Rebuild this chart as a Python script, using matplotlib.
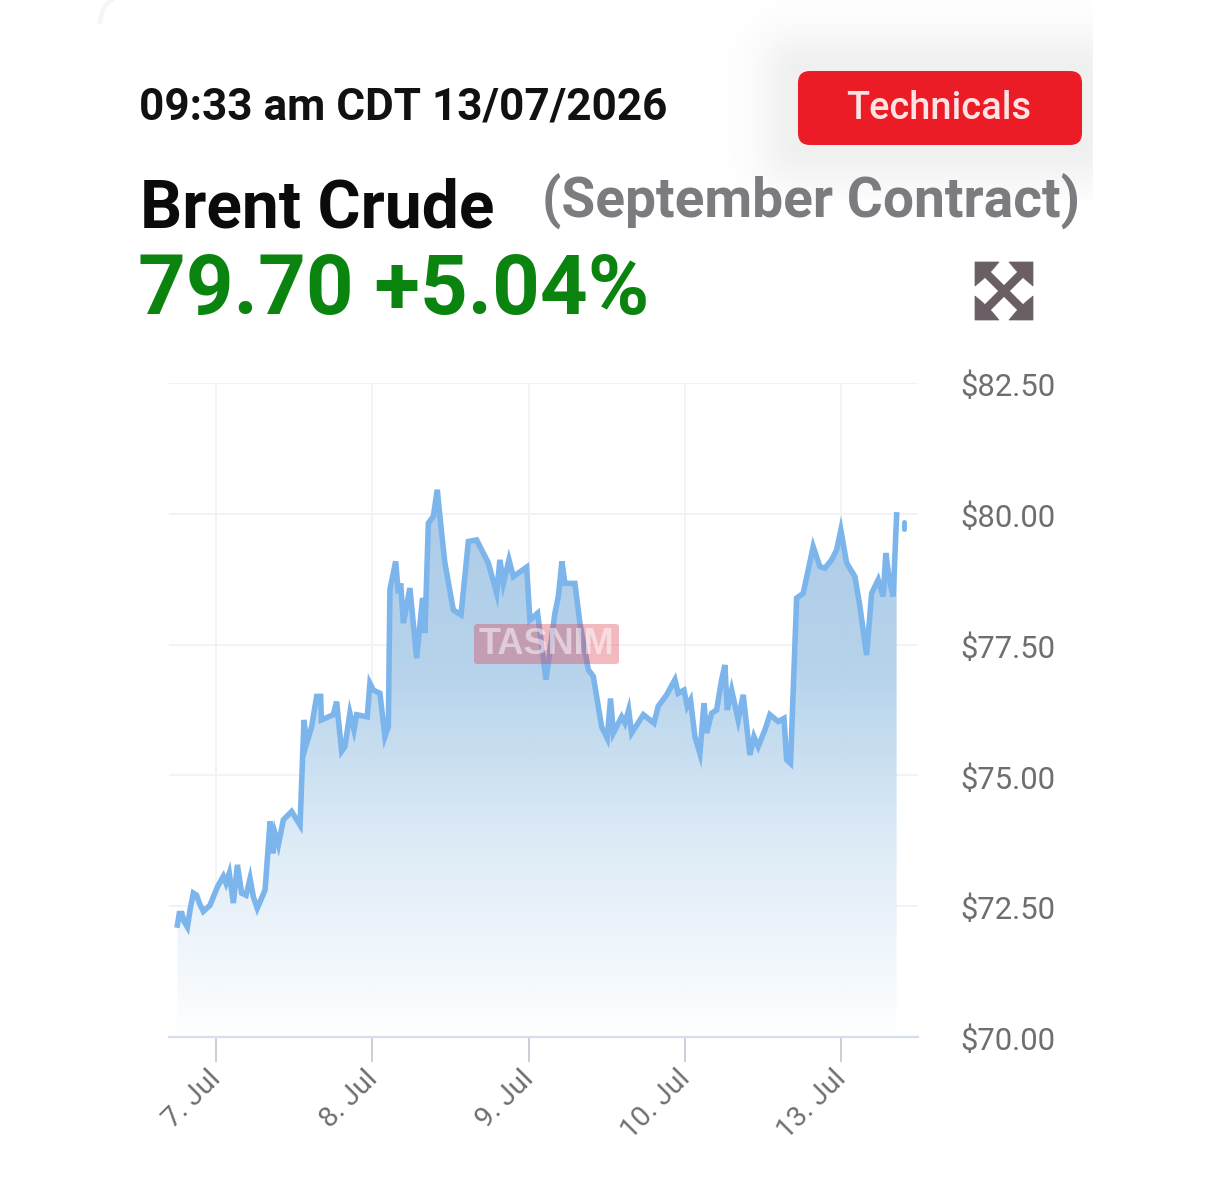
import numpy as np
import matplotlib
matplotlib.use("Agg")
import matplotlib.pyplot as plt
from matplotlib.colors import LinearSegmentedColormap
from matplotlib.patches import FancyBboxPatch, Polygon
from matplotlib.transforms import ScaledTranslation

W, H = 1225, 1181

# Trading-day position (0 = 7 Jul session mark) and Brent price in dollars
days = [
    -0.247, -0.235, -0.218, -0.205, -0.183, -0.166, -0.145, -0.124, -0.107, -0.081,
    -0.038, 0.009, 0.047, 0.064, 0.085, 0.111, 0.137, 0.164, 0.192, 0.218,
    0.239, 0.264, 0.314, 0.346, 0.363, 0.378, 0.399, 0.431, 0.484, 0.538,
    0.563, 0.580, 0.612, 0.644, 0.670, 0.674, 0.751, 0.772, 0.804, 0.825,
    0.857, 0.883, 0.900, 0.968, 0.985, 1.007, 1.049, 1.081, 1.103, 1.113,
    1.150, 1.167, 1.182, 1.199, 1.241, 1.284, 1.322, 1.337, 1.359, 1.391,
    1.416, 1.444, 1.465, 1.519, 1.568, 1.615, 1.668, 1.743, 1.796, 1.817,
    1.839, 1.875, 1.903, 1.988, 2.009, 2.058, 2.112, 2.169, 2.191, 2.214,
    2.233, 2.297, 2.329, 2.383, 2.415, 2.468, 2.504, 2.525, 2.543, 2.596,
    2.617, 2.641, 2.660, 2.735, 2.803, 2.830, 2.884, 2.937, 2.958, 2.995,
    3.016, 3.037, 3.065, 3.097, 3.123, 3.140, 3.172, 3.204, 3.236, 3.257,
    3.272, 3.300, 3.342, 3.374, 3.417, 3.443, 3.470, 3.513, 3.545, 3.598,
    3.635, 3.652, 3.677, 3.716, 3.758, 3.822, 3.865, 3.897, 3.940, 3.972,
    3.999, 4.036, 4.089, 4.121, 4.164, 4.196, 4.238, 4.270, 4.287, 4.309,
    4.334, 4.356,
]
prices = [
    72.14, 72.36, 72.36, 72.21, 72.10, 72.43, 72.75, 72.71, 72.56, 72.40,
    72.52, 72.87, 73.07, 72.94, 73.13, 72.56, 73.29, 72.75, 72.71, 73.03,
    72.68, 72.46, 72.81, 74.12, 73.51, 73.89, 73.67, 74.15, 74.31, 74.05,
    76.06, 75.61, 75.93, 76.51, 76.51, 76.06, 76.16, 76.41, 75.46, 75.55,
    76.19, 75.87, 76.16, 76.12, 76.76, 76.63, 76.57, 75.74, 75.93, 78.55,
    79.09, 78.48, 78.67, 77.91, 78.58, 77.24, 78.39, 77.72, 79.82, 79.95,
    80.46, 79.63, 79.06, 78.16, 78.07, 79.47, 79.50, 79.06, 78.48, 79.12,
    78.67, 79.12, 78.80, 78.98, 77.97, 78.10, 76.83, 78.10, 78.42, 79.09,
    78.67, 78.67, 77.91, 77.02, 76.89, 75.93, 75.71, 76.47, 75.81, 76.12,
    76.00, 76.25, 75.81, 76.16, 76.00, 76.32, 76.54, 76.83, 76.57, 76.63,
    76.32, 76.44, 75.74, 75.42, 76.38, 75.81, 76.19, 76.25, 76.83, 77.11,
    76.25, 76.63, 76.06, 76.54, 75.39, 75.74, 75.55, 75.87, 76.16, 76.03,
    76.09, 75.30, 75.23, 78.39, 78.48, 79.37, 78.99, 78.96, 79.12, 79.31,
    79.69, 79.06, 78.80, 78.23, 77.30, 78.48, 78.74, 78.42, 79.25, 78.74,
    78.42, 79.98,
]
# Latest quotes, plotted apart from the main run after a short gap
last_days = [4.403, 4.403]
last_prices = [79.85, 79.70]

y_ticks = [70, 72.5, 75, 77.5, 80, 82.5]
y_labels = ["$70.00", "$72.50", "$75.00", "$77.50", "$80.00", "$82.50"]
x_ticks = [0, 1, 2, 3, 4]
x_labels = ["7. Jul", "8. Jul", "9. Jul", "10. Jul", "13. Jul"]

LINE = "#7cb5ec"
GRID = "#f1f3f7"
AXIS = "#d5deec"
TICK = "#c6ccd4"
LABEL = "#6e6e6e"

plt.rcParams["font.family"] = ["Roboto", "DejaVu Sans"]

fig = plt.figure(figsize=(W / 100, H / 100), dpi=100, facecolor="white")

# Full-figure layer in pixel units for the quote header and the shadow behind it
page = fig.add_axes([0, 0, 1, 1], zorder=1)

xx, yy = np.meshgrid(np.arange(680, 1093), np.arange(0, 200))
dx = np.maximum(np.maximum(800 - xx, xx - 1080), 0)
dy = np.maximum(np.maximum(72 - yy, yy - 145), 0)
shadow = np.exp(-(dx ** 2 + dy ** 2) / (2 * 30.0 ** 2))
shadow_cmap = LinearSegmentedColormap.from_list("soft", ["#ffffff", "#f0f0f1"])
page.imshow(shadow, extent=(680, 1093, 200, 0), cmap=shadow_cmap, vmin=0, vmax=1,
            aspect="auto", zorder=0)
page.set_xlim(0, W)
page.set_ylim(H, 0)
page.axis("off")

# Faint page-edge curve in the top corner
page.plot([100, 102, 106, 112], [22, 12, 5, 0], color="#f5f5f5", lw=3, zorder=1)

button = FancyBboxPatch((798, 71), 284, 74, boxstyle="round,pad=0,rounding_size=12",
                        fc="#ec1c26", ec="none", zorder=2)
page.add_patch(button)
page.text(939, 119, "Technicals", color="#fde3e3", fontsize=27.4, fontweight="medium",
          ha="center", va="baseline", zorder=3)

page.text(139, 120, "09:33 am CDT 13/07/2026", color="#111111", fontsize=31.8,
          fontweight="bold", ha="left", va="baseline", zorder=3)
page.text(140, 227, "Brent Crude", color="#0b0b0b", fontsize=47.5,
          fontweight="bold", ha="left", va="baseline", zorder=3)
page.text(542, 217, "(September Contract)", color="#7b7b80", fontsize=39.7,
          fontweight="bold", ha="left", va="baseline", zorder=3)
page.text(138, 314, "79.70 +5.04%", color="#0a840f", fontsize=60,
          fontweight="bold", ha="left", va="baseline", zorder=3)

# Expand icon: four corner arrowheads joined by a diagonal cross
ICON = "#6b5f66"
x0, y0, x1, y1 = 975, 262, 1033, 320
s = 24
for cx, cy, sx, sy in [(x0, y0, 1, 1), (x1, y0, -1, 1), (x0, y1, 1, -1), (x1, y1, -1, -1)]:
    page.add_patch(Polygon([(cx, cy), (cx + sx * s, cy), (cx + sx * s * 0.72, cy + sy * 8),
                            (cx + sx * 8, cy + sy * s * 0.72), (cx, cy + sy * s)],
                           closed=True, fc=ICON, ec=ICON, lw=0.5, zorder=3))
page.plot([x0 + 8, x1 - 8], [y0 + 8, y1 - 8], color=ICON, lw=6, solid_capstyle="butt", zorder=3)
page.plot([x0 + 8, x1 - 8], [y1 - 8, y0 + 8], color=ICON, lw=6, solid_capstyle="butt", zorder=3)

# Price chart
left, right, top, bottom = 169, 918, 383, 1037
ax = fig.add_axes([left / W, 1 - bottom / H, (right - left) / W, (bottom - top) / H], zorder=2)
ax.patch.set_alpha(0)
xlim = ((left - 216) / 156.25, (right - 216) / 156.25)

for name in ["top", "left", "right"]:
    ax.spines[name].set_visible(False)
ax.spines["bottom"].set_color(AXIS)
ax.spines["bottom"].set_linewidth(1.6)

ax.grid(True, color=GRID, linewidth=1.4)
ax.set_axisbelow(True)

ax.set_yticks(y_ticks)
ax.set_yticklabels(y_labels)
ax.yaxis.tick_right()
ax.tick_params(axis="y", length=0, pad=30.5, labelsize=22.3, labelcolor=LABEL)
ax.set_xticks(x_ticks)
ax.set_xticklabels(x_labels, rotation=45, ha="right", va="center", rotation_mode="anchor")
ax.tick_params(axis="x", length=18, width=1.3, color=TICK, pad=9, labelsize=20.5, labelcolor=LABEL)

# Small offsets for the tick labels, in pixels
x_nudge = ScaledTranslation(1 / 100, 0, fig.dpi_scale_trans)
for lab in ax.get_xticklabels():
    lab.set_transform(lab.get_transform() + x_nudge)
y_nudge = ScaledTranslation(0, -1.5 / 100, fig.dpi_scale_trans)
for lab in ax.get_yticklabels():
    lab.set_transform(lab.get_transform() + y_nudge)

# Area under the line: vertical fade from the series colour to white
fade = LinearSegmentedColormap.from_list(
    "fade", [(1, 1, 1, 1), (0.87, 0.925, 0.97, 1), (0.70, 0.82, 0.92, 1), (0.66, 0.79, 0.90, 1)])
grad = np.linspace(0, 1, 256).reshape(-1, 1)
im = ax.imshow(grad, extent=(xlim[0], xlim[1], 70, 80.5), origin="lower", aspect="auto",
               cmap=fade, alpha=0.95, zorder=1)
ax.set_xlim(*xlim)
ax.set_ylim(70, 82.5)
area = Polygon(list(zip([days[0]] + days + [days[-1]], [70] + prices + [70])), closed=True,
               transform=ax.transData, fc="none", ec="none")
ax.add_patch(area)
im.set_clip_path(area)

ax.plot(days, prices, color=LINE, lw=4.0, solid_joinstyle="miter", zorder=3)
ax.plot(last_days, last_prices, color=LINE, lw=3.6, solid_capstyle="round", zorder=3)

# Source stamp across the middle of the plot
stamp = fig.add_axes([0, 0, 1, 1], zorder=3)
stamp.set_xlim(0, W)
stamp.set_ylim(H, 0)
stamp.axis("off")
stamp.add_patch(FancyBboxPatch((474, 624), 145, 40, boxstyle="round,pad=0,rounding_size=3",
                               fc="#dd3f50", ec="none", alpha=0.36))
stamp.text(546, 645, "TASNIM", color="white", alpha=0.5, fontsize=26, fontweight="bold",
           ha="center", va="center", family="Liberation Sans")

fig.savefig("out.png", dpi=100, facecolor="white")
